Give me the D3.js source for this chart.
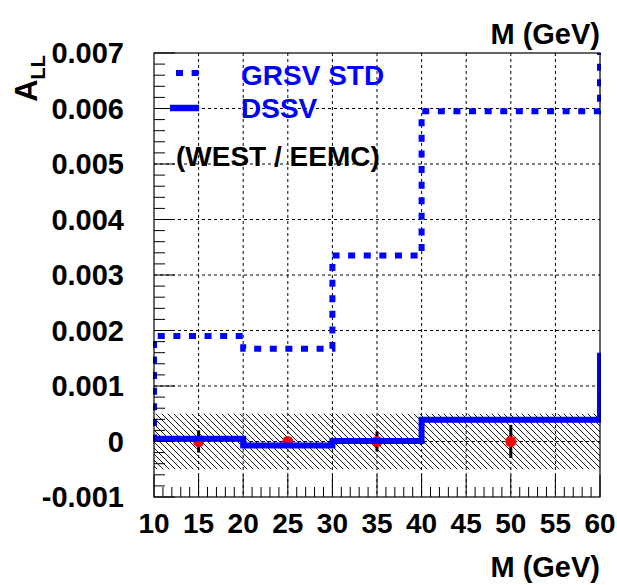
<!DOCTYPE html>
<html><head><meta charset="utf-8">
<script src="https://cdn.jsdelivr.net/npm/d3@7"></script>
<style>html,body{margin:0;padding:0;background:#fff;}svg{display:block;}</style>
</head><body>
<svg id="c" width="617" height="585"></svg>
<script>
// ---- data ----
const binEdges = [10, 20, 30, 40, 60];
const grsvStd = [0.0019, 0.00167, 0.00335, 0.00595];
const grsvEnds = [0, 0.0075];          // outline start at M=10, continuation at M=60 (clipped)
const dssv = [0.00005, -0.00007, 0.00001, 0.00039];
const dssvEnds = [0, 0.0016];
const pointM = [15, 25, 35, 50];
const pointA = [0, 0, 0, 0];
const pointErr = [0.0002, 0.00008, 0.00018, 0.0003];
const sysBand = [-0.0005, 0.0005];
const yTickValues = [-0.001, 0, 0.001, 0.002, 0.003, 0.004, 0.005, 0.006, 0.007];
const yTickLabels = ["-0.001", "0", "0.001", "0.002", "0.003", "0.004", "0.005", "0.006", "0.007"];
const xTickValues = [10, 15, 20, 25, 30, 35, 40, 45, 50, 55, 60];
const xTickLabels = ["10", "15", "20", "25", "30", "35", "40", "45", "50", "55", "60"];
const legendLabels = ["GRSV STD", "DSSV"];
const noteText = "(WEST / EEMC)";
const xTitle = "M (GeV)";

// ---- layout ----
const L = 154, R = 600, T = 53, B = 497;
const x = d3.scaleLinear().domain([10, 60]).range([L, R]);
const y = d3.scaleLinear().domain([-0.001, 0.007]).range([B, T]);
const FONT = "'Liberation Sans', Arial, Helvetica, sans-serif";
const BLUE = "#0000ff";

const svg = d3.select("#c");
const defs = svg.append("defs");
defs.append("clipPath").attr("id", "clip").append("rect")
  .attr("x", L - 1).attr("y", T).attr("width", R - L + 2).attr("height", B - T);
const pat = defs.append("pattern").attr("id", "hatch").attr("patternUnits", "userSpaceOnUse")
  .attr("width", 6).attr("height", 6);
pat.append("path").attr("d", "M-1,-1 L7,7 M-4,2 L2,8 M4,-4 L10,2")
  .attr("stroke", "#000").attr("stroke-width", 0.9);

// grid
const grid = svg.append("g");
grid.selectAll("line.gx").data(xTickValues.filter(v => v > 10 && v < 60)).enter().append("line")
  .attr("x1", d => x(d)).attr("x2", d => x(d)).attr("y1", T).attr("y2", B)
  .attr("stroke", "#000").attr("stroke-width", 1).attr("stroke-dasharray", "3,3");
grid.selectAll("line.gy").data(yTickValues.filter(v => v > -0.001 && v < 0.007)).enter().append("line")
  .attr("x1", L).attr("x2", R).attr("y1", d => y(d)).attr("y2", d => y(d))
  .attr("stroke", "#000").attr("stroke-width", 1).attr("stroke-dasharray", "3,3");

const plot = svg.append("g").attr("clip-path", "url(#clip)");

// systematic band
plot.append("rect").attr("x", x(binEdges[0])).attr("width", x(binEdges[binEdges.length - 1]) - x(binEdges[0]))
  .attr("y", y(sysBand[1])).attr("height", y(sysBand[0]) - y(sysBand[1]))
  .attr("fill", "url(#hatch)");

// data points
plot.selectAll("line.err").data(pointM).enter().append("line")
  .attr("x1", (d) => x(d)).attr("x2", (d) => x(d))
  .attr("y1", (d, i) => y(pointA[i] - pointErr[i])).attr("y2", (d, i) => y(pointA[i] + pointErr[i]))
  .attr("stroke", "#000").attr("stroke-width", 3);
plot.selectAll("circle.pt").data(pointM).enter().append("circle")
  .attr("cx", d => x(d)).attr("cy", (d, i) => y(pointA[i])).attr("r", 5.5).attr("fill", "#ff0000");

function stepPoints(vals, ends) {
  const pts = [[binEdges[0], ends[0]]];
  vals.forEach((v, i) => { pts.push([binEdges[i], v]); pts.push([binEdges[i + 1], v]); });
  pts.push([binEdges[binEdges.length - 1], ends[1]]);
  return pts;
}
const line = d3.line().x(d => x(d[0])).y(d => y(d[1]));

plot.append("path").attr("d", line(stepPoints(dssv, dssvEnds)))
  .attr("fill", "none").attr("stroke", BLUE).attr("stroke-width", 6).attr("stroke-linejoin", "miter");
plot.append("path").attr("d", line(stepPoints(grsvStd, grsvEnds)))
  .attr("fill", "none").attr("stroke", BLUE).attr("stroke-width", 6)
  .attr("stroke-dasharray", "7,8.6");

// frame
svg.append("rect").attr("x", L).attr("y", T).attr("width", R - L).attr("height", B - T)
  .attr("fill", "none").attr("stroke", "#000").attr("stroke-width", 1.2);

// ticks
const yMinor = d3.range(-0.001, 0.00701, 0.0002);
svg.append("g").selectAll("line").data(yMinor).enter().append("line")
  .attr("x1", L).attr("x2", (d) => L + (Math.abs(Math.round(d * 5000) % 5) === 0 ? 21 : 11))
  .attr("y1", d => y(d)).attr("y2", d => y(d)).attr("stroke", "#000").attr("stroke-width", 1);
const xMinor = d3.range(10, 61, 1);
svg.append("g").selectAll("line").data(xMinor).enter().append("line")
  .attr("x1", d => x(d)).attr("x2", d => x(d))
  .attr("y1", B).attr("y2", d => B - (d % 5 === 0 ? 22 : 10)).attr("stroke", "#000").attr("stroke-width", 1);

// tick labels
svg.append("g").selectAll("text").data(yTickValues).enter().append("text")
  .attr("x", 124).attr("y", d => y(d)).attr("dy", "0.36em")
  .attr("text-anchor", "end").attr("font-family", FONT).attr("font-weight", "bold").attr("font-size", 29)
  .text((d, i) => yTickLabels[i]);
svg.append("g").selectAll("text").data(xTickValues).enter().append("text")
  .attr("x", d => x(d)).attr("y", 533)
  .attr("text-anchor", "middle").attr("font-family", FONT).attr("font-weight", "bold").attr("font-size", 28)
  .text((d, i) => xTickLabels[i]);

// axis titles
[44, 577].forEach(yy => {
  svg.append("text").attr("x", R).attr("y", yy).attr("text-anchor", "end")
    .attr("font-family", FONT).attr("font-weight", "bold").attr("font-size", 29).text(xTitle);
});
const yt = svg.append("text").attr("transform", "translate(37,55) rotate(-90)")
  .attr("text-anchor", "end").attr("font-family", FONT).attr("font-weight", "bold").attr("font-size", 31);
yt.append("tspan").text("A");
yt.append("tspan").attr("dy", 8).attr("font-size", 20).text("LL");

// legend
const lg = svg.append("g");
lg.append("line").attr("x1", 176).attr("x2", 200).attr("y1", 73).attr("y2", 73)
  .attr("stroke", BLUE).attr("stroke-width", 6).attr("stroke-dasharray", "7,8.6");
lg.append("line").attr("x1", 170).attr("x2", 199).attr("y1", 108).attr("y2", 108)
  .attr("stroke", BLUE).attr("stroke-width", 6.5);
lg.selectAll("text").data(legendLabels).enter().append("text")
  .attr("x", 241).attr("y", (d, i) => 85 + i * 33)
  .attr("font-family", FONT).attr("font-weight", "bold").attr("font-size", 28).attr("fill", BLUE)
  .text(d => d);
svg.append("text").attr("x", 176).attr("y", 166).attr("font-family", FONT).attr("font-weight", "bold")
  .attr("font-size", 28).attr("fill", "#000").text(noteText);
</script>
</body></html>
